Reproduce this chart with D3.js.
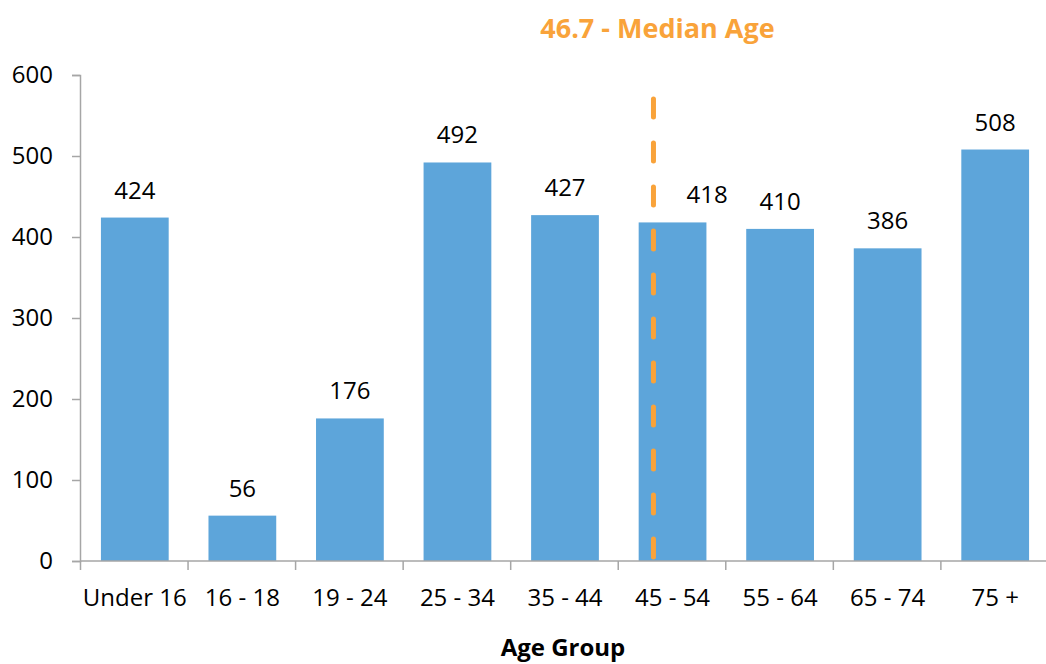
<!DOCTYPE html>
<html>
<head>
<meta charset="utf-8">
<script src="https://cdn.jsdelivr.net/npm/d3@7"></script>
<style>
  body { margin: 0; background: #fff; }
  svg { display: block; font-family: "Open Sans", sans-serif; }
</style>
</head>
<body>
<svg id="chart"></svg>
<script>
const ageGroups = ['Under 16', '16 - 18', '19 - 24', '25 - 34', '35 - 44', '45 - 54', '55 - 64', '65 - 74', '75 +']
const counts = [424, 56, 176, 492, 427, 418, 410, 386, 508]
const yTicks = [0, 100, 200, 300, 400, 500, 600]
const medianAge = 46.7
const medianGroup = '45 - 54'
const medianGroupRange = [45, 54]

const width = 1046
const height = 664
const margin = { top: 75, right: 0, bottom: 103, left: 80 }

const svg = d3.select('#chart')
  .attr('width', width)
  .attr('height', height)

let x = d3.scaleBand()
  .domain(ageGroups)
  .range([80.5, 1049.5])
  .paddingInner(0.37)
  .paddingOuter(0.19)

let y = d3.scaleLinear()
  .domain([0, 600])
  .range([height - margin.bottom, margin.top])

const axisColor = '#a6a6a6'

// median position inside its bar
let frac = (medianAge - medianGroupRange[0]) / (medianGroupRange[1] - medianGroupRange[0])
let mx = x(medianGroup) + frac * x.bandwidth() + 2

// y axis
let yAxis = svg.append('g')
  .attr('transform', `translate(${margin.left},0)`)
  .call(d3.axisLeft(y).tickValues(yTicks).tickSize(8).tickPadding(19))
yAxis.select('.domain').attr('stroke', axisColor).attr('stroke-width', 1.5)
yAxis.selectAll('.tick line').attr('stroke', axisColor).attr('stroke-width', 1.5)
yAxis.selectAll('text').attr('font-size', 24).attr('fill', '#000').attr('font-family', '"Open Sans", sans-serif')

// bars
svg.append('g')
  .selectAll('rect')
  .data(counts)
  .enter().append('rect')
  .attr('x', (d, i) => x(ageGroups[i]))
  .attr('width', x.bandwidth())
  .attr('y', d => y(d))
  .attr('height', d => y(0) - y(d))
  .attr('fill', '#5da5da')

// value labels (the one under the median line is pushed right of it)
svg.append('g')
  .selectAll('text')
  .data(counts)
  .enter().append('text')
  .attr('x', (d, i) => ageGroups[i] === medianGroup ? mx + 33 : x(ageGroups[i]) + x.bandwidth() / 2)
  .attr('y', d => y(d) - 19)
  .attr('text-anchor', (d, i) => ageGroups[i] === medianGroup ? 'start' : 'middle')
  .attr('font-size', 24)
  .attr('fill', '#000')
  .text(d => d)

// x axis, ticks between categories
let xAxisG = svg.append('g')
  .attr('transform', `translate(0,${y(0)})`)
let step = x.step()
let x0 = x(ageGroups[0]) - step * x.paddingOuter()
xAxisG.append('line')
  .attr('x1', margin.left).attr('x2', width)
  .attr('stroke', axisColor).attr('stroke-width', 1.5)
xAxisG.selectAll('line.tick')
  .data(d3.range(ageGroups.length + 1))
  .enter().append('line')
  .attr('class', 'tick')
  .attr('x1', i => x0 + i * step)
  .attr('x2', i => x0 + i * step)
  .attr('y1', 0).attr('y2', 9)
  .attr('stroke', axisColor).attr('stroke-width', 1.5)
xAxisG.selectAll('text')
  .data(ageGroups)
  .enter().append('text')
  .attr('x', d => x(d) + x.bandwidth() / 2)
  .attr('y', 45)
  .attr('text-anchor', 'middle')
  .attr('font-size', 24)
  .attr('fill', '#000')
  .text(d => d)

// x axis title
svg.append('text')
  .attr('x', (margin.left + width) / 2)
  .attr('y', 656)
  .attr('text-anchor', 'middle')
  .attr('font-size', 24)
  .attr('font-weight', 'bold')
  .attr('fill', '#000')
  .text('Age Group')

// median age marker
svg.append('line')
  .attr('x1', mx).attr('x2', mx)
  .attr('y1', 99).attr('y2', y(0))
  .attr('stroke', '#f9a33a')
  .attr('stroke-width', 5)
  .attr('stroke-linecap', 'round')
  .attr('stroke-dasharray', '18,26')

svg.append('text')
  .attr('x', mx + 4)
  .attr('y', 38)
  .attr('text-anchor', 'middle')
  .attr('font-size', 27)
  .attr('font-weight', 'bold')
  .attr('fill', '#f9a33a')
  .text(`${medianAge} - Median Age`)
</script>
</body>
</html>
